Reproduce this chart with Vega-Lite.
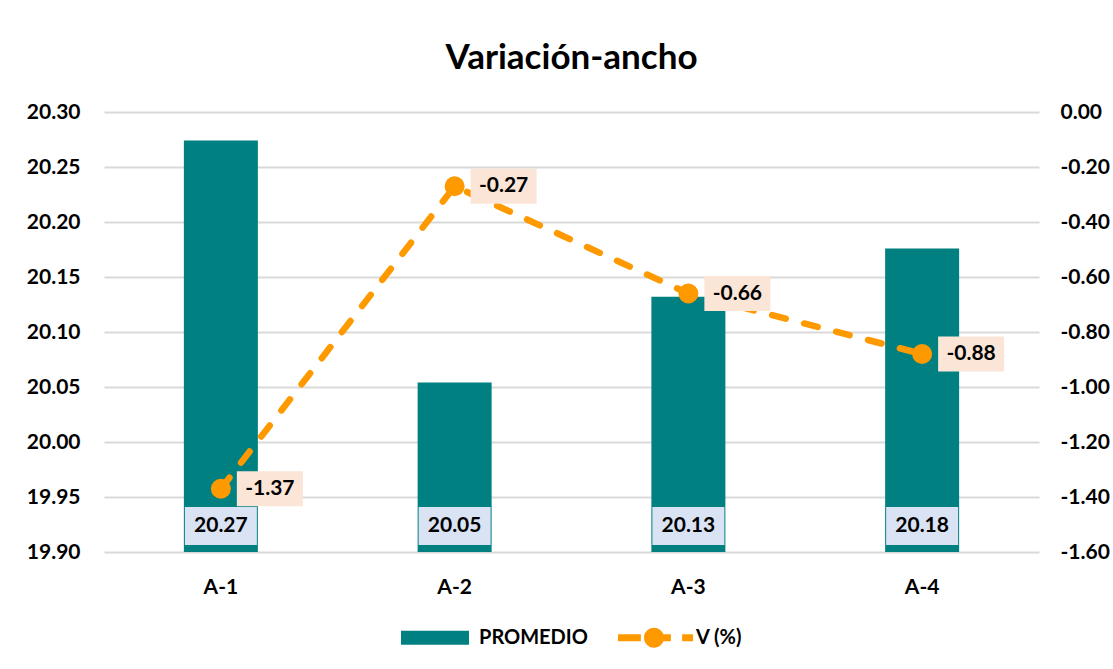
{
  "$schema": "https://vega.github.io/schema/vega-lite/v6.json",
  "width": 935,
  "height": 440,
  "autosize": {"type": "none"},
  "padding": {"left": 104, "top": 112, "right": 74, "bottom": 117},
  "background": "white",
  "title": {
    "text": "Variación-ancho",
    "font": "Lato",
    "fontSize": 35,
    "fontWeight": "bold",
    "color": "black",
    "anchor": "middle",
    "offset": 25
  },
  "data": {
    "values": [
      {"cat": "A-1", "prom": 20.274, "v": -1.37},
      {"cat": "A-2", "prom": 20.054, "v": -0.27},
      {"cat": "A-3", "prom": 20.132, "v": -0.66},
      {"cat": "A-4", "prom": 20.176, "v": -0.88}
    ]
  },
  "encoding": {
    "x": {
      "field": "cat",
      "type": "nominal",
      "scale": {"paddingInner": 0, "paddingOuter": 0},
      "axis": {
        "title": null,
        "labelAngle": 0,
        "domain": false,
        "ticks": false,
        "grid": false,
        "labelPadding": 24,
        "labelFont": "Lato",
        "labelFontSize": 21,
        "labelFontWeight": "bold",
        "labelColor": "black"
      }
    }
  },
  "layer": [
    {
      "layer": [
        {
          "mark": {"type": "bar", "width": 74},
          "encoding": {
            "y": {
              "field": "prom",
              "type": "quantitative",
              "scale": {"domain": [19.9, 20.3], "nice": false, "zero": false},
              "axis": {
                "title": null,
                "values": [19.9, 19.95, 20.0, 20.05, 20.1, 20.15, 20.2, 20.25, 20.3],
                "labelExpr": "format(datum.value, '.2f')",
                "domain": false,
                "ticks": false,
                "grid": true,
                "gridColor": "#D9D9D9",
                "gridWidth": 2,
                "labelPadding": 24,
                "labelFont": "Lato",
                "labelFontSize": 21,
                "labelFontWeight": "bold",
                "labelColor": "black"
              }
            },
            "y2": {"datum": 19.9},
            "fill": {
              "datum": "PROMEDIO",
              "scale": {"domain": ["PROMEDIO", "V (%)"], "range": ["#008080", "#FF9900"]},
              "legend": {
                "title": null,
                "orient": "none",
                "legendX": 297,
                "legendY": 488,
                "direction": "horizontal",
                "labelFont": "Lato",
                "labelFontSize": 20,
                "labelFontWeight": "bold",
                "labelColor": "black",
                "labelOffset": 3,
                "columnPadding": 30,
                "symbolSize": 5625,
                "symbolStrokeWidth": 0,
                "symbolOpacity": 1,
                "encode": {
                  "symbols": {
                    "update": {
                      "shape": {"signal": "datum.value === 'PROMEDIO' ? 'M-1,-0.187H0.813V0.187H-1Z' : 'M-1,-0.093H-0.39V0.093H-1Z M-0.307,0 A0.267,0.267 0 1,1 0.227,0 A0.267,0.267 0 1,1 -0.307,0Z M0.2,-0.093H0.41V0.093H0.2Z M0.71,-0.093H1V0.093H0.71Z'"},
                      "strokeWidth": {"value": 0}
                    }
                  }
                }
              }
            }
          }
        },
        {
          "mark": {"type": "bar", "width": 72, "fill": "#DAE3F3"},
          "encoding": {
            "y": {"datum": 19.9409},
            "y2": {"datum": 19.9064}
          }
        },
        {
          "mark": {"type": "text", "font": "Lato", "fontSize": 21, "fontWeight": "bold", "color": "black", "baseline": "middle", "align": "center"},
          "encoding": {
            "y": {"datum": 19.9236},
            "text": {"field": "prom", "type": "quantitative", "format": ".2f"}
          }
        }
      ]
    },
    {
      "layer": [
        {
          "mark": {"type": "line", "stroke": "#FF9900", "strokeWidth": 6.5, "strokeDash": [14, 19], "strokeCap": "round"},
          "encoding": {
            "y": {
              "field": "v",
              "type": "quantitative",
              "scale": {"domain": [-1.6, 0], "nice": false, "zero": false},
              "axis": {
                "title": null,
                "orient": "right",
                "values": [-1.6, -1.4, -1.2, -1.0, -0.8, -0.6, -0.4, -0.2, 0],
                "labelExpr": "format(datum.value, '.2f')",
                "domain": false,
                "ticks": false,
                "grid": false,
                "labelPadding": 21,
                "labelFont": "Lato",
                "labelFontSize": 21,
                "labelFontWeight": "bold",
                "labelColor": "black"
              }
            }
          }
        },
        {
          "mark": {"type": "point", "filled": true, "opacity": 1, "size": 400, "shape": "circle", "strokeWidth": 0},
          "encoding": {
            "y": {"field": "v", "type": "quantitative"},
            "fill": {
              "datum": "V (%)",
              "scale": {"domain": ["PROMEDIO", "V (%)"], "range": ["#008080", "#FF9900"]}
            }
          }
        },
        {
          "mark": {"type": "point", "filled": true, "opacity": 1, "size": 26896, "shape": "M0.195,-0.213H1V0.213H0.195Z", "fill": "#FBE5D6", "strokeWidth": 0},
          "encoding": {
            "y": {"field": "v", "type": "quantitative"}
          }
        },
        {
          "mark": {"type": "text", "font": "Lato", "fontSize": 21, "fontWeight": "bold", "color": "black", "baseline": "middle", "align": "center", "dx": 49},
          "encoding": {
            "y": {"field": "v", "type": "quantitative"},
            "text": {"field": "v", "type": "quantitative", "format": ".2f"}
          }
        }
      ]
    }
  ],
  "resolve": {"scale": {"y": "independent"}},
  "config": {
    "view": {"stroke": null},
    "locale": {
      "number": {"decimal": ".", "thousands": ",", "grouping": [3], "currency": ["$", ""], "minus": "-"}
    }
  }
}
